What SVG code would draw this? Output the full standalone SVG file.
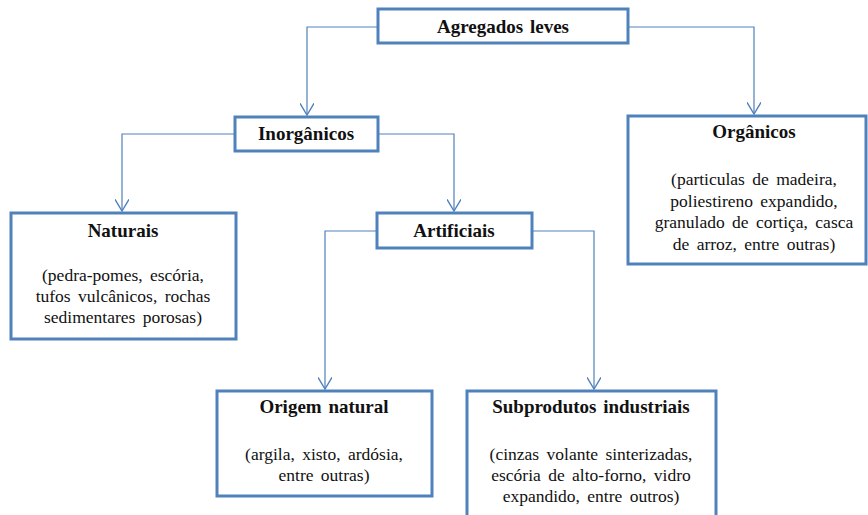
<svg xmlns="http://www.w3.org/2000/svg" width="868" height="515" viewBox="0 0 868 515">
<style>
.box{fill:#fff;stroke:#4F81BD;stroke-width:3}
.con{fill:none;stroke:#4F81BD;stroke-width:1.2}
text{font-family:"Liberation Serif","Times New Roman",serif;fill:#111;text-anchor:middle}
.t{font-size:19px;font-weight:bold;word-spacing:2px}
.b{font-size:17.5px;word-spacing:3px}
</style>
<defs>
<marker id="arr" markerUnits="userSpaceOnUse" markerWidth="14" markerHeight="14" viewBox="0 0 10 12" refX="10" refY="6" orient="auto">
<path d="M0,0 L10,6 L0,12" fill="none" stroke="#4F81BD" stroke-width="1.2"/>
</marker>
</defs>
<g id="connectors">
<path class="con" d="M378,27 H307 V115" marker-end="url(#arr)"/>
<path class="con" d="M628,27 H754 V114" marker-end="url(#arr)"/>
<path class="con" d="M235,134 H122 V211" marker-end="url(#arr)"/>
<path class="con" d="M378,134 H454 V211" marker-end="url(#arr)"/>
<path class="con" d="M377,231 H325 V389" marker-end="url(#arr)"/>
<path class="con" d="M532,231 H594 V389" marker-end="url(#arr)"/>
</g>
<g id="agregados">
<rect class="box" x="378" y="9" width="250" height="34"/>
<text class="t" x="503" y="33">Agregados leves</text>
</g>
<g id="inorganicos">
<rect class="box" x="235" y="117" width="143" height="34"/>
<text class="t" x="306" y="140">Inorgânicos</text>
</g>
<g id="organicos">
<rect class="box" x="628" y="116" width="238" height="148"/>
<text class="t" x="754" y="138">Orgânicos</text>
<text class="b" x="754" y="185">(particulas de madeira,</text>
<text class="b" x="754" y="207">poliestireno expandido,</text>
<text class="b" x="754" y="228">granulado de cortiça, casca</text>
<text class="b" x="754" y="250">de arroz, entre outras)</text>
</g>
<g id="naturais">
<rect class="box" x="11" y="213" width="225" height="126"/>
<text class="t" x="123" y="237">Naturais</text>
<text class="b" x="123" y="281">(pedra-pomes, escória,</text>
<text class="b" x="123" y="302">tufos vulcânicos, rochas</text>
<text class="b" x="123" y="323">sedimentares porosas)</text>
</g>
<g id="artificiais">
<rect class="box" x="377" y="213" width="155" height="35"/>
<text class="t" x="454" y="237">Artificiais</text>
</g>
<g id="origem">
<rect class="box" x="217" y="391" width="215" height="105"/>
<text class="t" x="324" y="413">Origem natural</text>
<text class="b" x="324" y="460">(argila, xisto, ardósia,</text>
<text class="b" x="324" y="481">entre outras)</text>
</g>
<g id="subprodutos">
<rect class="box" x="467" y="391" width="249" height="130"/>
<text class="t" x="591" y="413">Subprodutos industriais</text>
<text class="b" x="591" y="460">(cinzas volante sinterizadas,</text>
<text class="b" x="591" y="481">escória de alto-forno, vidro</text>
<text class="b" x="591" y="502">expandido, entre outros)</text>
</g>
</svg>
